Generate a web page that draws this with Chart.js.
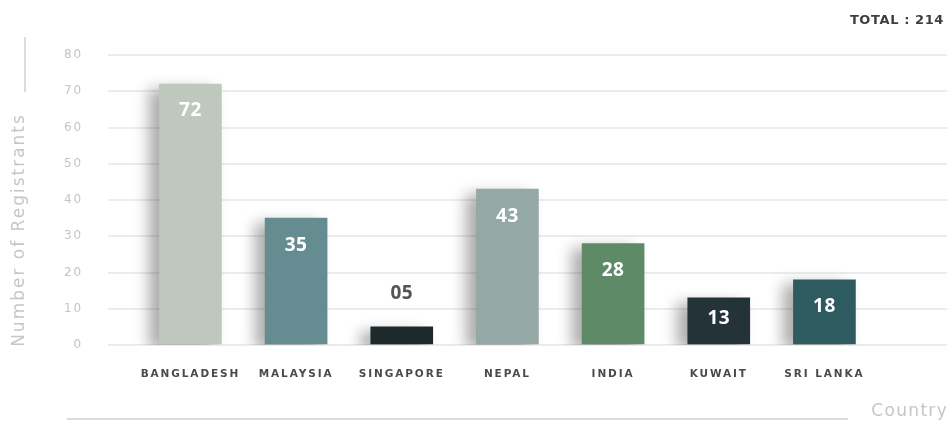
<!DOCTYPE html>
<html>
<head>
<meta charset="utf-8">
<script src="https://cdn.jsdelivr.net/npm/chart.js@4/dist/chart.umd.min.js"></script>
<style>
  html, body { margin: 0; padding: 0; background: #ffffff; }
  #wrap { width: 952px; height: 429px; position: relative; }
</style>
</head>
<body>
<div id="wrap"><canvas id="chart"></canvas></div>
<script>
// Registrants per country
const countries = ['BANGLADESH', 'MALAYSIA', 'SINGAPORE', 'NEPAL', 'INDIA', 'KUWAIT', 'SRI LANKA'];
const registrants = [72, 35, 5, 43, 28, 13, 18];
const barColors = ['#bfc8bd', '#658c91', '#1e2a2a', '#94a8a5', '#5e8a68', '#233338', '#2e5b5f'];
const yTickValues = [0, 10, 20, 30, 40, 50, 60, 70, 80];
const yAxisTitle = 'Number of Registrants';
const xAxisTitle = 'Country';

const total = registrants.reduce((a, b) => a + b, 0);

// Bars placed on a numeric index axis so the grid can run wider than the bar band
const points = registrants.map((v, i) => ({ x: i, y: v }));

const decorPlugin = {
  id: 'decor',
  beforeDraw(chart) {
    chart.ctx.letterSpacing = '1.9px';
  },
  beforeDatasetsDraw(chart) {
    const ctx = chart.ctx;
    ctx.letterSpacing = '0px';
    ctx.save();
    ctx.shadowColor = 'rgba(0,0,0,0.33)';
    ctx.shadowBlur = 14;
    ctx.shadowOffsetX = -10;
    ctx.shadowOffsetY = 5;
  },
  afterDatasetsDraw(chart) {
    const ctx = chart.ctx;
    ctx.restore();
    ctx.save();

    // value labels
    const meta = chart.getDatasetMeta(0);
    ctx.textAlign = 'center';
    ctx.textBaseline = 'middle';
    ctx.font = 'bold 19px "Open Sans", sans-serif';
    ctx.letterSpacing = '0.5px';
    meta.data.forEach((bar, i) => {
      const text = String(registrants[i]).padStart(2, '0');
      const h = bar.base - bar.y;
      if (h > 40) {
        ctx.fillStyle = '#ffffff';
        ctx.fillText(text, bar.x, bar.y + Math.min(27, h * 0.45));
      } else {
        ctx.fillStyle = '#555555';
        ctx.fillText(text, bar.x, bar.y - 33);
      }
    });

    // total
    ctx.font = 'bold 13px "DejaVu Sans", sans-serif';
    ctx.letterSpacing = '0.6px';
    ctx.fillStyle = '#3f3f3f';
    ctx.textAlign = 'right';
    ctx.fillText('TOTAL : ' + total, 944, 21);

    // y axis title with its marker line
    ctx.strokeStyle = '#dcdcdc';
    ctx.lineWidth = 2;
    ctx.beginPath();
    ctx.moveTo(25, 37);
    ctx.lineTo(25, 92);
    ctx.stroke();

    ctx.save();
    ctx.translate(20, 230);
    ctx.rotate(-Math.PI / 2);
    ctx.textAlign = 'center';
    ctx.font = '17px "DejaVu Sans", sans-serif';
    ctx.letterSpacing = '2px';
    ctx.fillStyle = '#c6c6c6';
    ctx.fillText(yAxisTitle, 0, 0);
    ctx.restore();

    // x axis title with its baseline
    ctx.beginPath();
    ctx.moveTo(67, 419);
    ctx.lineTo(848, 419);
    ctx.stroke();
    ctx.textAlign = 'right';
    ctx.font = '17px "DejaVu Sans", sans-serif';
    ctx.letterSpacing = '1.3px';
    ctx.fillStyle = '#c6c6c6';
    ctx.fillText(xAxisTitle, 948, 412);

    ctx.restore();
  }
};

new Chart(document.getElementById('chart'), {
  type: 'bar',
  data: {
    datasets: [{
      data: points,
      backgroundColor: barColors,
      borderWidth: 0,
      barThickness: 62
    }]
  },
  options: {
    responsive: true,
    maintainAspectRatio: false,
    animation: false,
    layout: { padding: { top: 55, right: 5, bottom: 0, left: 0 } },
    plugins: {
      legend: { display: false },
      tooltip: { enabled: false }
    },
    scales: {
      x: {
        type: 'linear',
        offset: false,
        min: -0.78,
        max: 7.16,
        grid: { display: false, offset: false },
        border: { display: false },
        afterFit: (scale) => { scale.height = 84; },
        afterBuildTicks: (scale) => {
          scale.ticks = countries.map((_, i) => ({ value: i }));
        },
        ticks: {
          autoSkip: false,
          maxRotation: 0,
          padding: 15,
          color: '#4a4a4a',
          font: { family: '"DejaVu Sans", sans-serif', size: 10.5, weight: 'bold' },
          callback: (value) => countries[value]
        }
      },
      y: {
        min: 0,
        max: 80,
        afterFit: (scale) => { scale.width = 108; },
        afterBuildTicks: (scale) => {
          scale.ticks = yTickValues.map(v => ({ value: v }));
        },
        grid: { color: '#ececec', lineWidth: 2, drawTicks: false },
        border: { display: false },
        ticks: {
          padding: 25,
          color: '#c4c4c4',
          font: { family: '"DejaVu Sans", sans-serif', size: 12, weight: 'normal' }
        }
      }
    }
  },
  plugins: [decorPlugin]
});
</script>
</body>
</html>
